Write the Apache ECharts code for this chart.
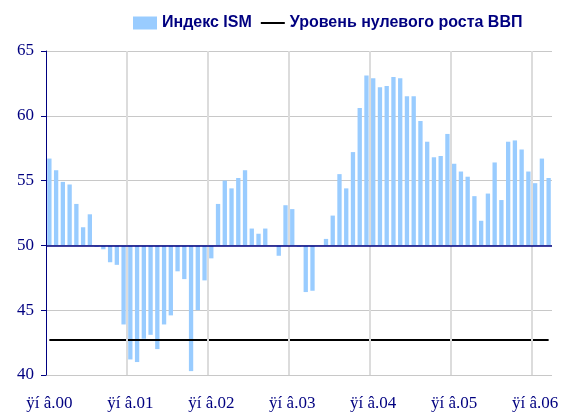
<!DOCTYPE html>
<html>
<head>
<meta charset="utf-8">
<script src="https://cdn.jsdelivr.net/npm/echarts@6/dist/echarts.min.js"></script>
<style>
  html, body { margin: 0; padding: 0; background: #fff; }
  #chart { width: 574px; height: 414px; }
</style>
</head>
<body>
<div id="chart"></div>
<script>
// годы и месяцы (подписи в исходной кодировке как на картинке)
const years = ['00', '01', '02', '03', '04', '05', '06']
const janLabel = 'ÿí â'

// индекс ISM помесячно, янв.2000 – мар.2006
const ismValues = [
  56.7, 55.8, 54.9, 54.7, 53.2, 51.4, 52.4, 49.9, 49.7, 48.7, 48.5, 43.9,
  41.2, 41.0, 42.8, 43.1, 42.0, 43.9, 44.6, 48.0, 47.4, 40.3, 45.0, 47.3,
  49.0, 53.2, 55.0, 54.4, 55.2, 55.8, 51.3, 50.9, 51.3, 50.0, 49.2, 53.1,
  52.8, 49.9, 46.4, 46.5, 50.0, 50.5, 52.3, 55.5, 54.4, 57.2, 60.6, 63.1,
  62.9, 62.2, 62.3, 63.0, 62.9, 61.5, 61.5, 59.6, 58.0, 56.8, 56.9, 58.6,
  56.3, 55.7, 55.3, 53.8, 51.9, 54.0, 56.4, 53.5, 58.0, 58.1, 57.4, 55.7,
  54.8, 56.7, 55.2
]

const ismBase = 50          // линия, от которой растут столбики
const gdpZeroLevel = 42.7   // уровень нулевого роста ВВП

const categories = []
years.forEach(y => {
  for (let m = 1; m <= 12; m++) {
    if (categories.length >= ismValues.length) break
    categories.push(m === 1 ? janLabel + '.' + y : m + '.' + y)
  }
})

// границы лет в месяцах от начала ряда (для вертикальной сетки)
const yearStarts = years.map((y, i) => i * 12).filter(m => m > 0 && m < categories.length)

// столбики от 50: прозрачная подложка + видимая часть
const baseData = ismValues.map(v => Math.min(v, ismBase))
const barData = ismValues.map(v => +Math.abs(v - ismBase).toFixed(2))
const lineData = ismValues.map(() => gdpZeroLevel)

const navy = '#000080'

const chart = echarts.init(document.getElementById('chart'))

const option = {
  animation: false,
  legend: {
    top: 10,
    left: 128,
    itemWidth: 24,
    itemHeight: 13,
    itemGap: 9,
    data: [
      { name: 'Индекс ISM', icon: 'rect' },
      { name: 'Уровень нулевого роста ВВП', icon: 'path://M0,0H24V2H0Z' }
    ],
    textStyle: {
      color: navy,
      fontFamily: 'Liberation Sans',
      fontWeight: 'bold',
      fontSize: 16
    }
  },
  grid: {
    left: 46,
    right: 22,
    top: 51,
    bottom: 39
  },
  xAxis: [
    {
      type: 'category',
      data: categories,
      boundaryGap: true,
      axisLine: { show: false },
      axisTick: { show: false },
      axisLabel: {
        interval: 11,
        color: navy,
        fontFamily: 'Liberation Serif',
        fontSize: 17,
        margin: 20
      },
      splitLine: { show: false }
    },
    {
      // вспомогательная ось: месяцы от начала, только для сетки
      type: 'value',
      min: 0,
      max: categories.length,
      interval: 12,
      show: false
    }
  ],
  yAxis: {
    type: 'value',
    min: 40,
    max: 65,
    interval: 5,
    axisLine: { show: true, lineStyle: { color: navy, width: 1 } },
    axisTick: { show: true, inside: false, length: 5, lineStyle: { color: navy } },
    axisLabel: {
      color: navy,
      fontFamily: 'Liberation Serif',
      fontSize: 17,
      margin: 12
    },
    splitLine: { lineStyle: { color: '#c8c8c8', width: 1 } }
  },
  series: [
    {
      name: 'grid',
      type: 'line',
      xAxisIndex: 1,
      data: [],
      silent: true,
      z: 1,
      markLine: {
        silent: true,
        symbol: 'none',
        label: { show: false },
        lineStyle: { color: '#dcdcdc', width: 2, type: 'solid' },
        data: yearStarts.map(m => ({ xAxis: m }))
      }
    },
    {
      name: 'base',
      type: 'bar',
      stack: 'ism',
      data: baseData,
      barWidth: '64%',
      itemStyle: { color: 'transparent' },
      silent: true
    },
    {
      name: 'Индекс ISM',
      type: 'bar',
      stack: 'ism',
      data: barData,
      barWidth: '64%',
      itemStyle: { color: '#99ccff' },
      markLine: {
        silent: true,
        symbol: 'none',
        label: { show: false },
        lineStyle: { color: navy, width: 1.5, type: 'solid' },
        data: [{ yAxis: ismBase }]
      }
    },
    {
      name: 'Уровень нулевого роста ВВП',
      type: 'line',
      data: lineData,
      symbol: 'none',
      lineStyle: { color: '#000', width: 2 },
      itemStyle: { color: '#000' },
      z: 3
    }
  ]
}

chart.setOption(option)
</script>
</body>
</html>
